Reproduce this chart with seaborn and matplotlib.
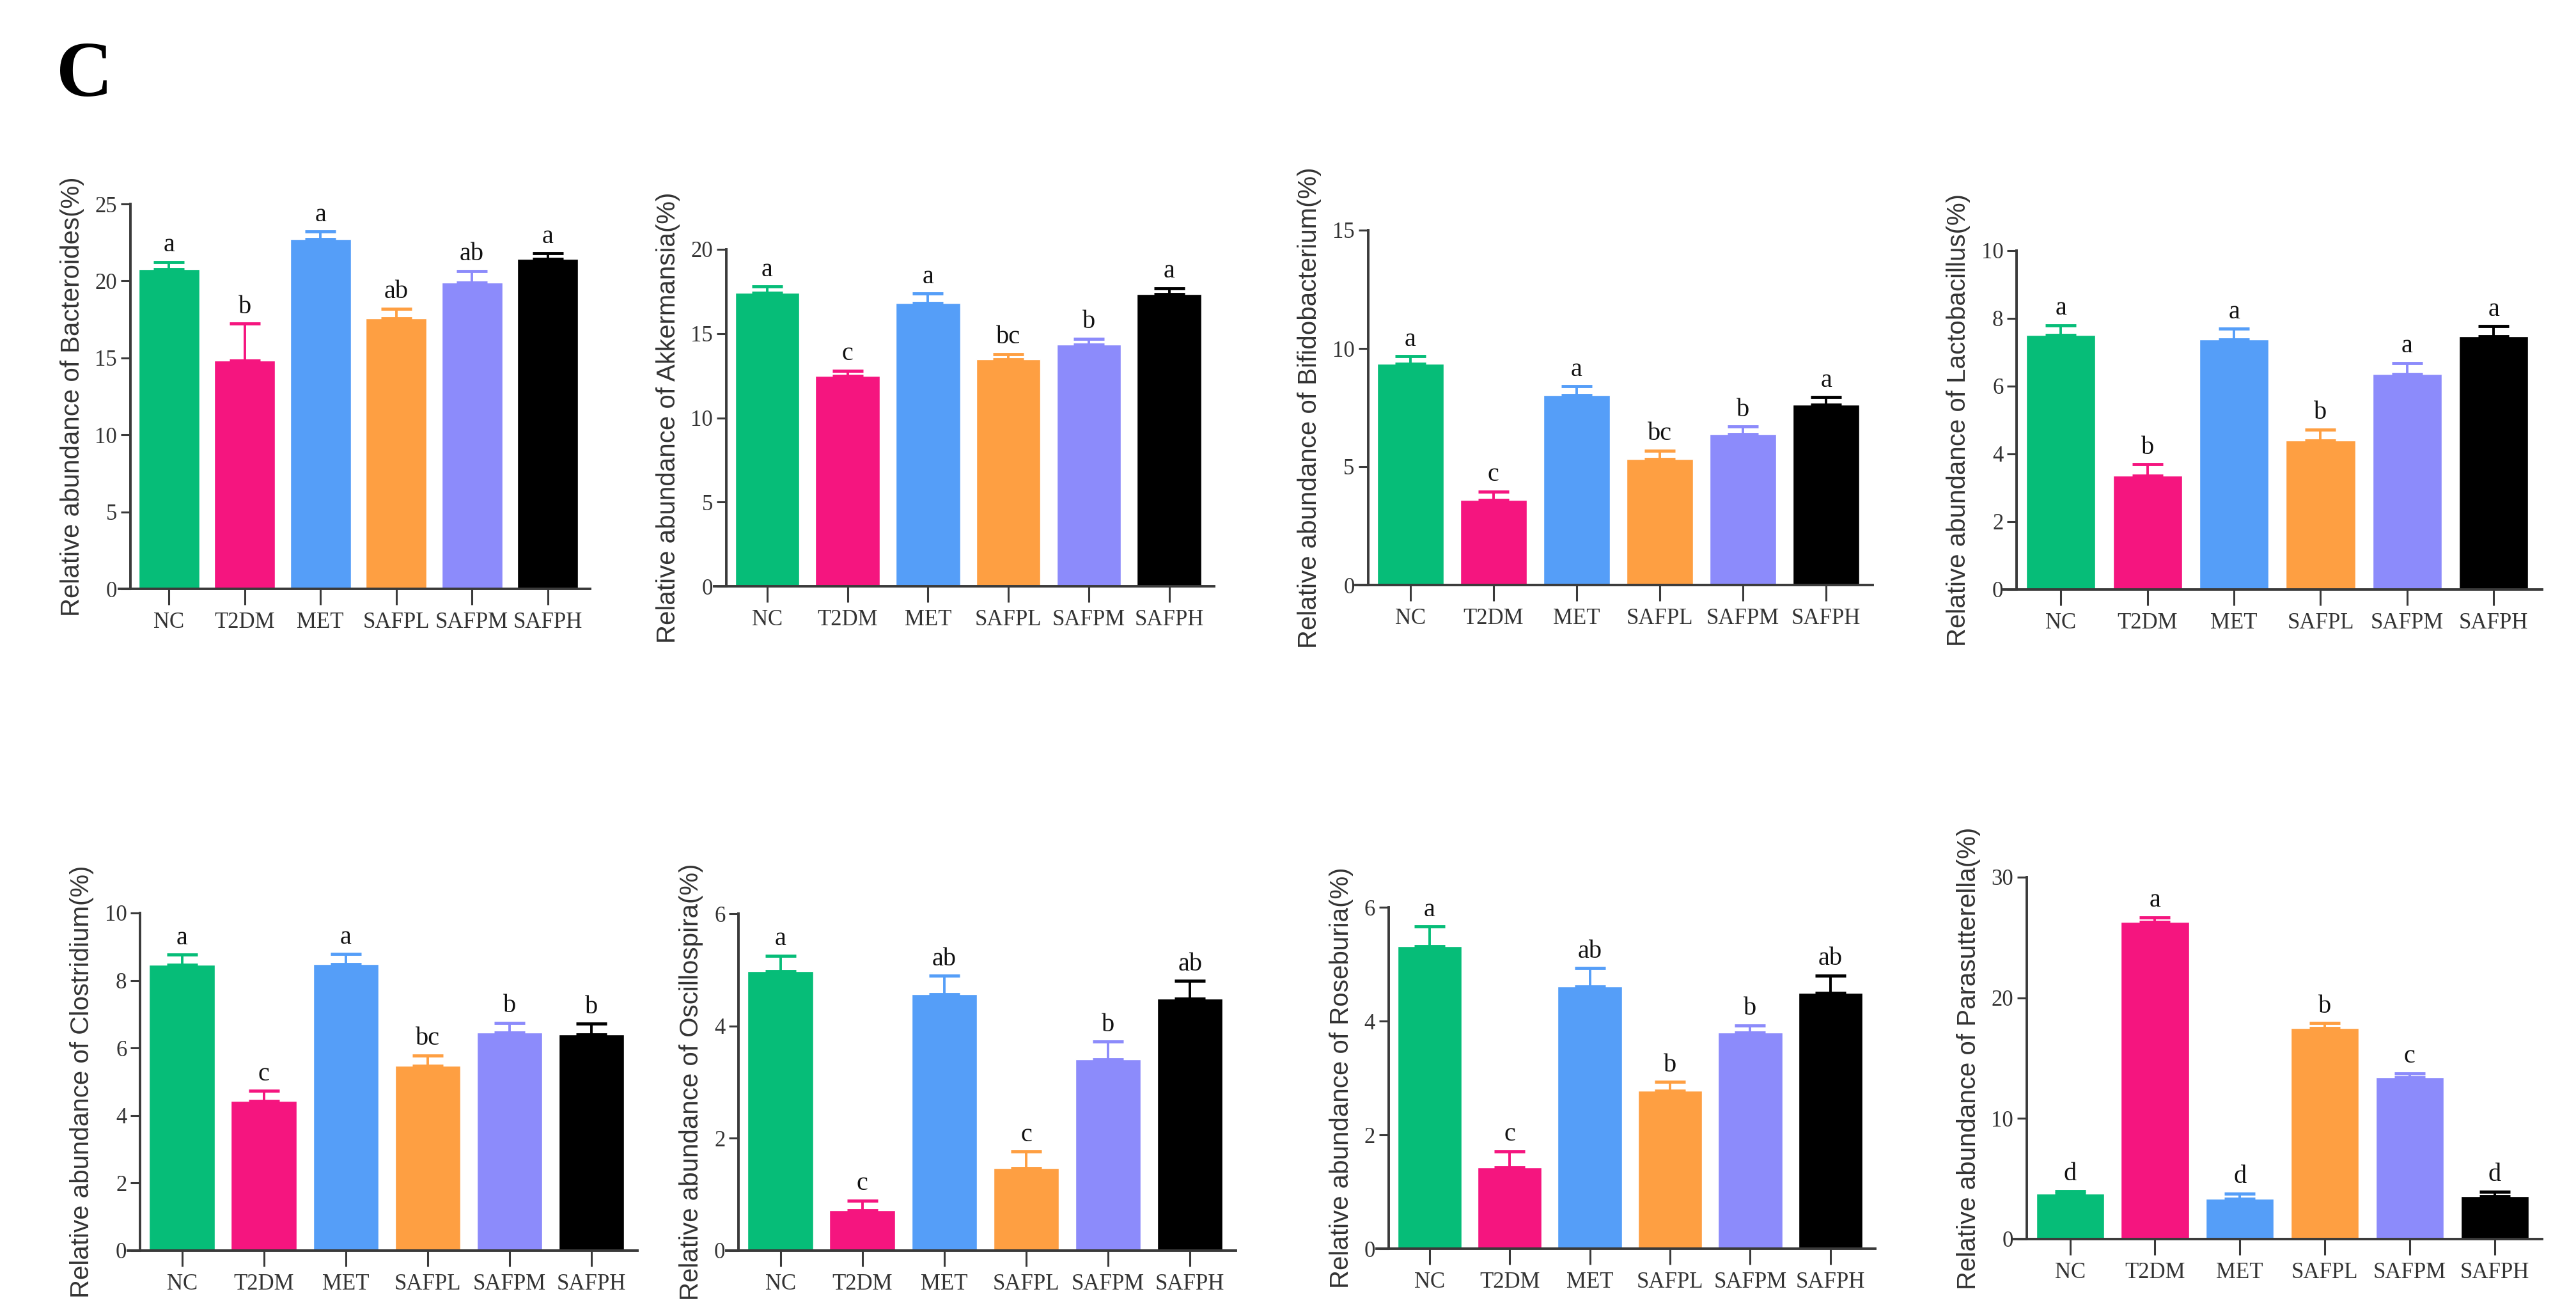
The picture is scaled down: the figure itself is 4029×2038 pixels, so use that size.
import numpy as np
import matplotlib
matplotlib.use("Agg")
import matplotlib.pyplot as plt
import seaborn as sns

sns.set_style("ticks")
plt.rcParams['font.family'] = ['Liberation Serif', 'DejaVu Serif']

# groups and colours
groups = ["NC", "T2DM", "MET", "SAFPL", "SAFPM", "SAFPH"]
bar_colors = ["#06BD78", "#F5157F", "#559EF8", "#FE9F42", "#8C8BFB", "#000000"]

# mean values (%)
bacteroides = [20.76, 14.82, 22.70, 17.56, 19.90, 21.44]
akkermansia = [17.41, 12.47, 16.83, 13.48, 14.34, 17.33]
bifidobacterium = [9.35, 3.60, 8.03, 5.33, 6.37, 7.62]
lactobacillus = [7.50, 3.35, 7.37, 4.39, 6.35, 7.48]
clostridium = [8.47, 4.43, 8.49, 5.48, 6.46, 6.41]
oscillospira = [4.97, 0.72, 4.57, 1.47, 3.40, 4.49]
roseburia = [5.32, 1.43, 4.61, 2.78, 3.80, 4.50]
parasutterella = [3.75, 26.28, 3.35, 17.47, 13.39, 3.54]

# upper error (SEM)
bacteroides_err = [0.47, 2.40, 0.50, 0.65, 0.75, 0.35]
akkermansia_err = [0.37, 0.33, 0.54, 0.30, 0.35, 0.37]
bifidobacterium_err = [0.32, 0.35, 0.37, 0.35, 0.32, 0.32]
lactobacillus_err = [0.29, 0.34, 0.32, 0.33, 0.33, 0.29]
clostridium_err = [0.29, 0.30, 0.29, 0.30, 0.29, 0.31]
oscillospira_err = [0.28, 0.17, 0.32, 0.29, 0.32, 0.31]
roseburia_err = [0.34, 0.28, 0.32, 0.15, 0.12, 0.30]
parasutterella_err = [0.24, 0.40, 0.43, 0.43, 0.35, 0.40]

# significance letters
bacteroides_sig = ["a", "b", "a", "ab", "ab", "a"]
akkermansia_sig = ["a", "c", "a", "bc", "b", "a"]
bifidobacterium_sig = ["a", "c", "a", "bc", "b", "a"]
lactobacillus_sig = ["a", "b", "a", "b", "a", "a"]
clostridium_sig = ["a", "c", "a", "bc", "b", "b"]
oscillospira_sig = ["a", "c", "ab", "c", "b", "ab"]
roseburia_sig = ["a", "c", "ab", "b", "b", "ab"]
parasutterella_sig = ["d", "a", "d", "b", "c", "d"]

genera = ["Bacteroides", "Akkermansia", "Bifidobacterium", "Lactobacillus",
          "Clostridium", "Oscillospira", "Roseburia", "Parasutterella"]
means = [bacteroides, akkermansia, bifidobacterium, lactobacillus,
         clostridium, oscillospira, roseburia, parasutterella]
errors = [bacteroides_err, akkermansia_err, bifidobacterium_err, lactobacillus_err,
          clostridium_err, oscillospira_err, roseburia_err, parasutterella_err]
letters = [bacteroides_sig, akkermansia_sig, bifidobacterium_sig, lactobacillus_sig,
           clostridium_sig, oscillospira_sig, roseburia_sig, parasutterella_sig]
y_max = [25, 20, 15, 10, 10, 6, 6, 30]
y_step = [5, 5, 5, 2, 2, 2, 2, 10]

# panel placement in pixels: y-spine x, right end, top tick y, zero y
W, H = 4030, 2038
boxes = [(204, 923, 319, 921), (1135, 1899, 390, 917),
         (2138, 2929, 360, 915), (3152, 3976, 392, 922),
         (218, 997, 1428, 1956), (1154, 1933, 1429, 1956),
         (2171, 2933, 1419, 1953), (3168, 3976, 1372, 1938)]

axis_col = "#3a3a3a"
fig = plt.figure(figsize=(W / 100, H / 100), dpi=100)

for i in range(8):
    xs, xr, yt, yb = boxes[i]
    left = xs - 18
    ax = fig.add_axes([left / W, 1 - yb / H, (xr - left) / W, (yb - yt) / H])

    sns.barplot(x=groups, y=means[i], hue=groups, palette=bar_colors,
                errorbar=None, width=0.8, legend=False, ax=ax, saturation=1)

    for j, g in enumerate(groups):
        ax.errorbar(j, means[i][j], yerr=[[0], [errors[i][j]]], fmt="none",
                    ecolor=bar_colors[j], elinewidth=2.8, capsize=17,
                    capthick=3.5, zorder=1)
        ax.annotate(letters[i][j], (j, means[i][j] + errors[i][j]),
                    xytext=(0, 12), textcoords="offset points",
                    ha="center", va="baseline", fontsize=29, color="#111111")

    ax.set_xlim(-0.66, 5.56)
    ax.set_ylim(0, y_max[i])
    ax.set_yticks(np.arange(0, y_max[i] + 0.01, y_step[i]))
    ax.spines["top"].set_visible(False)
    ax.spines["right"].set_visible(False)
    ax.spines["left"].set_position(("data", -0.51))
    for s in ["left", "bottom"]:
        ax.spines[s].set_linewidth(2.8)
        ax.spines[s].set_color(axis_col)
    ax.tick_params(axis="y", length=11, width=2.2, color=axis_col,
                   labelsize=25, labelcolor="#333333", pad=4)
    ax.tick_params(axis="x", length=18, width=2.2, color=axis_col,
                   labelsize=25, labelcolor="#333333", pad=8)
    ax.set_xlabel("")
    ax.set_ylabel(f"Relative abundance of {genera[i]}(%)", fontsize=29,
                  family=["Liberation Sans", "DejaVu Sans"],
                  color="#333333", labelpad=12)

fig.text(88 / W, 1 - 150 / H, "C", fontsize=88, fontweight="bold",
         ha="left", va="baseline", color="black")

fig.savefig("out.png", dpi=100)
